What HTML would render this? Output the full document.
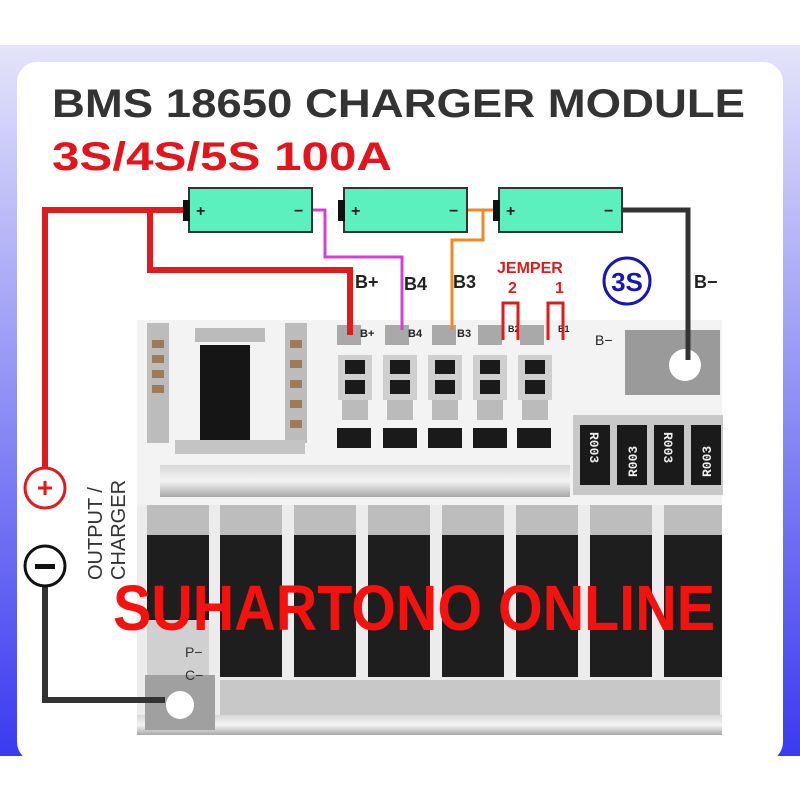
<!DOCTYPE html>
<html><head><meta charset="utf-8"><style>
html,body{margin:0;padding:0;background:#fff;}
svg{display:block;}
</style></head><body>
<svg width="800" height="800" viewBox="0 0 800 800" xmlns="http://www.w3.org/2000/svg">
<defs>
<linearGradient id="fr" x1="0" y1="0" x2="0" y2="1">
<stop offset="0" stop-color="#e4e4fb"/><stop offset="0.5" stop-color="#8f8ff5"/><stop offset="1" stop-color="#3a3af0"/>
</linearGradient>
<linearGradient id="sil" x1="0" y1="0" x2="0" y2="1">
<stop offset="0" stop-color="#d8d8d8"/><stop offset="0.5" stop-color="#f4f4f4"/><stop offset="1" stop-color="#a8a8a8"/>
</linearGradient>
</defs>
<rect x="0" y="0" width="800" height="800" fill="#fff"/>
<rect x="0" y="45" width="800" height="711" fill="url(#fr)"/>
<rect x="17" y="62" width="766" height="700" rx="20" fill="#fff"/>
<rect x="0" y="756" width="800" height="44" fill="#fff"/>

<text x="52" y="117" font-family="Liberation Sans" font-weight="bold" font-size="40" fill="#333" textLength="693" lengthAdjust="spacingAndGlyphs">BMS 18650 CHARGER MODULE</text>
<text x="52" y="170" font-family="Liberation Sans" font-weight="bold" font-size="40" fill="#e3141b" textLength="340" lengthAdjust="spacingAndGlyphs">3S/4S/5S 100A</text>

<!-- board -->
<rect x="137" y="320" width="585" height="415" fill="#ececec"/>
<rect x="137" y="320" width="585" height="185" fill="#f3f3f3"/>
<!-- left headers -->
<g fill="#8a7a6a">
<rect x="147" y="323" width="22" height="120" fill="#bcbcbc"/>
<rect x="285" y="323" width="22" height="120" fill="#bcbcbc"/>
</g>
<g fill="#a07a58">
<rect x="152" y="340" width="12" height="8"/><rect x="152" y="355" width="12" height="8"/><rect x="152" y="370" width="12" height="8"/><rect x="152" y="385" width="12" height="8"/>
<rect x="290" y="340" width="12" height="8"/><rect x="290" y="360" width="12" height="8"/><rect x="290" y="380" width="12" height="8"/><rect x="290" y="400" width="12" height="8"/><rect x="290" y="420" width="12" height="8"/>
</g>
<rect x="195" y="328" width="70" height="14" fill="#bbb"/>
<rect x="200" y="345" width="50" height="95" fill="#151515"/>
<rect x="175" y="440" width="130" height="14" fill="#c4c4c4"/>
<!-- channel pads -->
<g fill="#a9a9a9">
<rect x="337" y="325" width="24" height="20"/><rect x="385" y="325" width="24" height="20"/><rect x="432" y="325" width="24" height="20"/><rect x="478" y="325" width="24" height="20"/><rect x="520" y="325" width="24" height="20"/>
</g>
<g font-family="Liberation Sans" font-size="11" fill="#222" font-weight="bold">
<text x="360" y="337">B+</text><text x="408" y="337">B4</text><text x="457" y="337">B3</text><text x="508" y="332" font-size="9">B2</text><text x="558" y="332" font-size="9">B1</text>
<text x="595" y="345" font-size="14" font-weight="normal">B−</text>
</g>
<!-- 151 resistors -->
<g>
<g fill="#cfcfcf"><rect x="338" y="355" width="34" height="45"/><rect x="383" y="355" width="34" height="45"/><rect x="428" y="355" width="34" height="45"/><rect x="473" y="355" width="34" height="45"/><rect x="518" y="355" width="34" height="45"/></g>
<g fill="#1a1a1a">
<rect x="345" y="360" width="20" height="14"/><rect x="345" y="380" width="20" height="14"/>
<rect x="390" y="360" width="20" height="14"/><rect x="390" y="380" width="20" height="14"/>
<rect x="435" y="360" width="20" height="14"/><rect x="435" y="380" width="20" height="14"/>
<rect x="480" y="360" width="20" height="14"/><rect x="480" y="380" width="20" height="14"/>
<rect x="525" y="360" width="20" height="14"/><rect x="525" y="380" width="20" height="14"/>
</g>
<g fill="#bbb"><rect x="342" y="400" width="26" height="20"/><rect x="387" y="400" width="26" height="20"/><rect x="432" y="400" width="26" height="20"/><rect x="477" y="400" width="26" height="20"/><rect x="522" y="400" width="26" height="20"/></g>
<g fill="#1a1a1a"><rect x="337" y="428" width="34" height="20"/><rect x="383" y="428" width="34" height="20"/><rect x="428" y="428" width="34" height="20"/><rect x="473" y="428" width="34" height="20"/><rect x="517" y="428" width="34" height="20"/></g>
</g>
<!-- B- pad -->
<rect x="625" y="330" width="95" height="65" fill="#9a9a9a"/>
<circle cx="685" cy="365" r="16" fill="#fff"/>
<!-- R003 -->
<rect x="573" y="415" width="150" height="80" fill="#c8c8c8"/>
<g fill="#1a1a1a"><rect x="580" y="425" width="30" height="60"/><rect x="617" y="425" width="30" height="60"/><rect x="654" y="425" width="30" height="60"/><rect x="691" y="425" width="30" height="60"/></g>
<g font-family="Liberation Mono" font-size="13" fill="#eee" font-weight="bold">
<text transform="translate(590,432) rotate(90)">R003</text>
<text transform="translate(637,477) rotate(-90)">R003</text>
<text transform="translate(664,432) rotate(90)">R003</text>
<text transform="translate(711,477) rotate(-90)">R003</text>
</g>
<!-- silver strip -->
<rect x="160" y="465" width="410" height="32" fill="url(#sil)"/>
<!-- mosfets -->
<g fill="#bdbdbd">
<rect x="147" y="505" width="62" height="30"/><rect x="220" y="505" width="62" height="30"/><rect x="294" y="505" width="62" height="30"/><rect x="368" y="505" width="62" height="30"/><rect x="442" y="505" width="62" height="30"/><rect x="516" y="505" width="62" height="30"/><rect x="590" y="505" width="62" height="30"/><rect x="664" y="505" width="58" height="30"/>
</g>
<g fill="#1e1e1e">
<rect x="147" y="535" width="62" height="140"/><rect x="220" y="535" width="62" height="142"/><rect x="294" y="535" width="62" height="142"/><rect x="368" y="535" width="62" height="142"/><rect x="442" y="535" width="62" height="142"/><rect x="516" y="535" width="62" height="142"/><rect x="590" y="535" width="62" height="142"/><rect x="664" y="535" width="58" height="142"/>
</g>
<rect x="147" y="620" width="62" height="60" fill="#d0d0d0"/>
<g fill="#c8c8c8"><rect x="220" y="680" width="500" height="40"/></g>
<rect x="137" y="715" width="585" height="20" fill="url(#sil)"/>
<rect x="145" y="675" width="70" height="55" fill="#a0a0a0"/>
<circle cx="180" cy="705" r="14" fill="#fff"/>
<g font-family="Liberation Sans" font-size="14" fill="#333"><text x="185" y="657">P−</text><text x="185" y="680">C−</text></g>

<!-- watermark -->
<text x="113" y="630" font-family="Liberation Sans" font-weight="bold" font-size="64" fill="#f5120e" textLength="602" lengthAdjust="spacingAndGlyphs">SUHARTONO ONLINE</text>

<!-- wires -->
<g fill="none" stroke-linejoin="miter">
<polyline points="188,210 45,210 45,467" stroke="#e11b1b" stroke-width="6"/>
<polyline points="150,210 150,270 350,270 350,335" stroke="#e11b1b" stroke-width="6"/>
<polyline points="312,210 325,210 325,257 402,257 402,330" stroke="#d540d5" stroke-width="3"/>
<polyline points="467,210 498,210" stroke="#ef8a22" stroke-width="3"/>
<polyline points="483,210 483,240 452,240 452,330" stroke="#ef8a22" stroke-width="3"/>
<polyline points="622,210 688,210 688,360" stroke="#333" stroke-width="5"/>
<polyline points="45,586 45,700 165,700" stroke="#333" stroke-width="6"/>
<polyline points="503,340 503,303 518,303 518,340" stroke="#e11b1b" stroke-width="3"/>
<polyline points="548,340 548,303 563,303 563,340" stroke="#e11b1b" stroke-width="3"/>
</g>
<!-- batteries -->
<g stroke="#333" stroke-width="2" fill="#5cf0bf">
<rect x="189" y="188" width="123" height="44"/><rect x="344" y="188" width="123" height="44"/><rect x="499" y="188" width="123" height="44"/>
</g>
<g fill="#111"><rect x="183" y="200" width="7" height="21"/><rect x="338" y="200" width="7" height="21"/><rect x="493" y="200" width="7" height="21"/></g>
<g font-family="Liberation Sans" font-weight="bold" font-size="16" fill="#222">
<text x="196" y="216">+</text><text x="294" y="216">−</text>
<text x="351" y="216">+</text><text x="449" y="216">−</text>
<text x="506" y="216">+</text><text x="604" y="216">−</text>
</g>
<!-- terminal circles -->
<circle cx="45" cy="488" r="20" fill="#fff" stroke="#e11b1b" stroke-width="3"/>
<text x="45" y="497" text-anchor="middle" font-family="Liberation Sans" font-weight="bold" font-size="28" fill="#e11b1b">+</text>
<circle cx="45" cy="566" r="20" fill="#fff" stroke="#111" stroke-width="3"/>
<rect x="35" y="564" width="20" height="5" fill="#111"/>
<text transform="translate(102,580) rotate(-90)" font-family="Liberation Sans" font-size="20" fill="#333">OUTPUT /</text>
<text transform="translate(125,580) rotate(-90)" font-family="Liberation Sans" font-size="20" fill="#333">CHARGER</text>
<!-- labels -->
<g font-family="Liberation Sans" font-weight="bold" font-size="18" fill="#222">
<text x="355" y="288">B+</text><text x="404" y="290">B4</text><text x="453" y="288">B3</text><text x="694" y="288">B−</text>
</g>
<g font-family="Liberation Sans" font-weight="bold" font-size="16" fill="#e11b1b">
<text x="497" y="273">JEMPER</text><text x="508" y="293">2</text><text x="555" y="293">1</text>
</g>
<circle cx="627" cy="281" r="23" fill="#fff" stroke="#1515b8" stroke-width="3"/>
<text x="627" y="291" text-anchor="middle" font-family="Liberation Sans" font-weight="bold" font-size="26" fill="#1515b8">3S</text>
</svg>
</body></html>
